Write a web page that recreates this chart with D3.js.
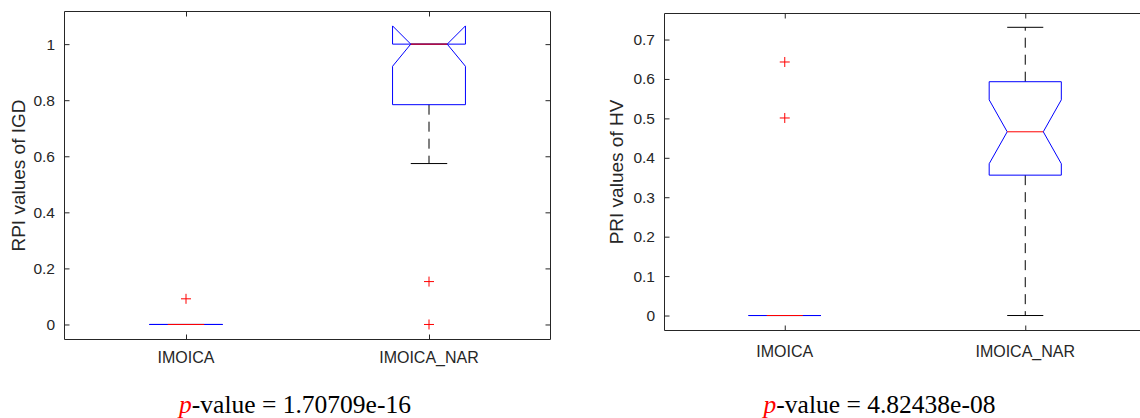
<!DOCTYPE html>
<html>
<head>
<meta charset="utf-8">
<script src="https://cdn.jsdelivr.net/npm/d3@7"></script>
<style>
  html, body { margin: 0; padding: 0; background: #fff; }
  svg { display: block; }
</style>
</head>
<body>
<svg id="chart" width="1140" height="418"></svg>
<script>
// Groups compared in both panels
const groups = ["IMOICA", "IMOICA_NAR"];

// RPI values of IGD: box statistics per group
const igdQ1 = [0, 0.784];
const igdMedian = [0, 1.0];
const igdQ3 = [0, 1.0];
const igdNotchLo = [0, 0.921];
const igdNotchHi = [0, 1.065];
const igdWhiskerLo = [0, 0.574];
const igdWhiskerHi = [0, 1.0];
const igdOutliers = [[0.0915], [0.153, 0]];
const igdTicks = [0, 0.2, 0.4, 0.6, 0.8, 1];
const igdLimits = [-0.0536, 1.1164];
const igdPValue = "1.70709e-16";

// PRI values of HV: box statistics per group
const hvQ1 = [0, 0.356];
const hvMedian = [0, 0.466];
const hvQ3 = [0, 0.593];
const hvNotchLo = [0, 0.385];
const hvNotchHi = [0, 0.547];
const hvWhiskerLo = [0, 0];
const hvWhiskerHi = [0, 0.731];
const hvOutliers = [[0.643, 0.501], []];
const hvTicks = [0, 0.1, 0.2, 0.3, 0.4, 0.5, 0.6, 0.7];
const hvLimits = [-0.038, 0.766];
const hvPValue = "4.82438e-08";

const AXIS_COLOR = "#262626";
const SANS = "'Liberation Sans', Arial, sans-serif";
const SERIF = "'Liberation Serif', 'Times New Roman', serif";

const svg = d3.select("#chart");

function drawPanel(p) {
  const g = svg.append("g");
  const x = d3.scaleLinear().domain([0.5, 2.5]).range([p.left, p.right]);
  const y = d3.scaleLinear().domain(p.limits).range([p.bottom, p.top]);
  const pos = groups.map((_, i) => i + 1);
  const boxHalf = 0.15, notchHalf = 0.075, capHalf = 0.075;

  // axes frame with inward ticks on all sides
  const tickLen = 5;
  const yAxisL = d3.axisLeft(y).tickValues(p.ticks).tickSize(-tickLen).tickPadding(9.5)
    .tickFormat(d => d3.format("~g")(d));
  const yAxisR = d3.axisRight(y).tickValues(p.ticks).tickSize(-tickLen).tickFormat("");
  const xAxisB = d3.axisBottom(x).tickValues(pos).tickSize(-tickLen).tickFormat("");
  const xAxisT = d3.axisTop(x).tickValues(pos).tickSize(-tickLen).tickFormat("");

  const styleAxis = sel => {
    sel.selectAll("path.domain").attr("stroke", AXIS_COLOR).attr("stroke-width", 1);
    sel.selectAll(".tick line").attr("stroke", AXIS_COLOR).attr("stroke-width", 1);
    sel.selectAll(".tick text").attr("fill", AXIS_COLOR)
      .attr("font-family", SANS).attr("font-size", 15.5);
  };
  g.append("g").attr("transform", `translate(${p.left},0)`).call(yAxisL).call(styleAxis)
    .selectAll("path.domain").attr("d", `M0,${p.bottom}V${p.top}`);
  g.append("g").attr("transform", `translate(${p.right},0)`).call(yAxisR).call(styleAxis)
    .selectAll("path.domain").attr("d", `M0,${p.bottom}V${p.top}`);
  g.append("g").attr("transform", `translate(0,${p.bottom})`).call(xAxisB).call(styleAxis)
    .selectAll("path.domain").attr("d", `M${p.left},0H${p.right}`);
  g.append("g").attr("transform", `translate(0,${p.top})`).call(xAxisT).call(styleAxis)
    .selectAll("path.domain").attr("d", `M${p.left},0H${p.right}`);

  // group labels under the axis
  g.selectAll("text.grp").data(groups).join("text")
    .attr("class", "grp")
    .attr("x", (d, i) => x(pos[i]))
    .attr("y", p.labelBaseline)
    .attr("text-anchor", "middle")
    .attr("font-family", SANS).attr("font-size", 16)
    .attr("fill", AXIS_COLOR)
    .text(d => d);

  // y axis title
  g.append("text")
    .attr("transform", `translate(${p.titleX},${(p.top + p.bottom) / 2}) rotate(-90)`)
    .attr("text-anchor", "middle").attr("dy", "0.36em")
    .attr("font-family", SANS).attr("font-size", 19)
    .attr("fill", AXIS_COLOR)
    .text(p.title);

  const line = d3.line().x(d => x(d[0])).y(d => y(d[1]));

  pos.forEach((c, i) => {
    // whiskers
    [[p.q3[i], p.wHi[i]], [p.q1[i], p.wLo[i]]].forEach(([a, b]) => {
      if (a === b) return;
      g.append("path").attr("d", line([[c, a], [c, b]]))
        .attr("fill", "none").attr("stroke", "#000").attr("stroke-width", 1)
        .attr("stroke-dasharray", "10,7");
    });
    // whisker caps
    [p.wHi[i], p.wLo[i]].forEach(v => {
      g.append("path").attr("d", line([[c - capHalf, v], [c + capHalf, v]]))
        .attr("fill", "none").attr("stroke", "#000").attr("stroke-width", 1);
    });
    // notched box
    const L = c - boxHalf, R = c + boxHalf, nL = c - notchHalf, nR = c + notchHalf;
    const pts = [
      [L, p.q1[i]], [L, p.nLo[i]], [nL, p.med[i]], [L, p.nHi[i]], [L, p.q3[i]],
      [R, p.q3[i]], [R, p.nHi[i]], [nR, p.med[i]], [R, p.nLo[i]], [R, p.q1[i]], [L, p.q1[i]]
    ];
    g.append("path").attr("d", line(pts))
      .attr("fill", "none").attr("stroke", "#0000ff").attr("stroke-width", 1);
    // median
    g.append("path").attr("d", line([[nL, p.med[i]], [nR, p.med[i]]]))
      .attr("fill", "none").attr("stroke", "#ff0000").attr("stroke-width", 1);
    // outliers
    p.out[i].forEach(v => {
      const px = x(c), py = y(v), s = 5;
      g.append("path").attr("d", `M${px - s},${py}H${px + s}M${px},${py - s}V${py + s}`)
        .attr("stroke", "#ff0000").attr("stroke-width", 1).attr("fill", "none");
    });
  });

  // significance note
  const t = svg.append("text")
    .attr("x", p.noteX).attr("y", 413)
    .attr("text-anchor", "middle")
    .attr("font-family", SERIF).attr("font-size", 25.5)
    .attr("fill", "#000");
  t.append("tspan").attr("font-style", "italic").attr("fill", "#ff0000").text("p");
  t.append("tspan").text("-value = " + p.pValue);
}

drawPanel({
  left: 64.5, right: 550.5, top: 11.5, bottom: 339.5,
  limits: igdLimits, ticks: igdTicks, title: "RPI values of IGD", titleX: 18.5,
  q1: igdQ1, med: igdMedian, q3: igdQ3, nLo: igdNotchLo, nHi: igdNotchHi,
  wLo: igdWhiskerLo, wHi: igdWhiskerHi, out: igdOutliers,
  labelBaseline: 363, noteX: 295, pValue: igdPValue
});

drawPanel({
  left: 664.5, right: 1145.5, top: 13.5, bottom: 330.5,
  limits: hvLimits, ticks: hvTicks, title: "PRI values of HV", titleX: 616.5,
  q1: hvQ1, med: hvMedian, q3: hvQ3, nLo: hvNotchLo, nHi: hvNotchHi,
  wLo: hvWhiskerLo, wHi: hvWhiskerHi, out: hvOutliers,
  labelBaseline: 357, noteX: 879.5, pValue: hvPValue
});
</script>
</body>
</html>
